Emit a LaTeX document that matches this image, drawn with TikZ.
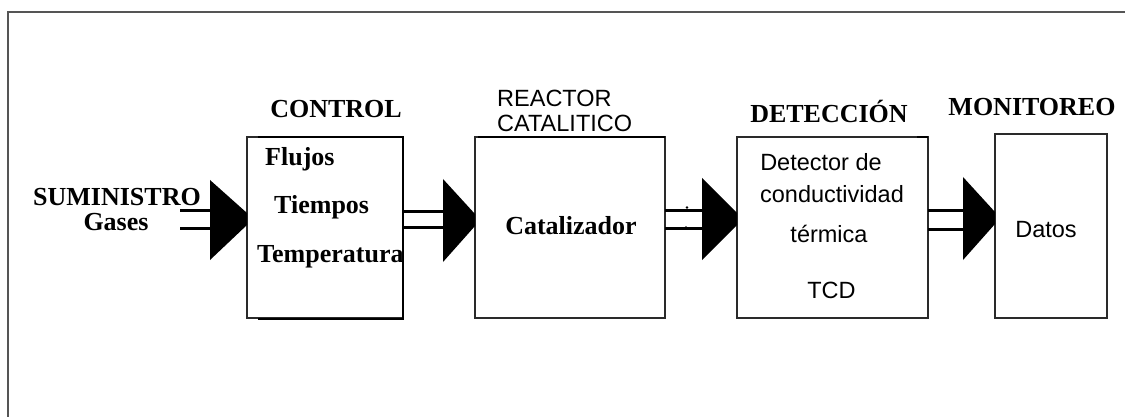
\documentclass[tikz,border=0pt]{standalone}
\usepackage{fontspec}
\setmainfont{Liberation Serif}
\newfontfamily\arialfont{Liberation Sans}
\definecolor{framegray}{HTML}{555555}
\definecolor{boxline}{HTML}{2A2A2A}
\begin{document}
\begin{tikzpicture}[x=1pt,y=-1pt,
  box/.style={draw=boxline,line width=1.8pt,rectangle,inner sep=0pt,outer sep=0pt},
  heavy/.style={draw=black,line width=2.8pt},
  pipe/.style={draw=black,line width=3pt},
  headfill/.style={fill=black},
  serif/.style={inner sep=0pt,anchor=base,font=\fontsize{26}{30}\selectfont\bfseries},
  sans/.style={inner sep=0pt,anchor=base,font=\arialfont\fontsize{23.5}{26}\selectfont},
]
\useasboundingbox (0,0) rectangle (1125,417);
\fill[white] (0,0) rectangle (1125,417);

% outer frame (open on the right and at the bottom)
\draw[framegray,line width=2pt] (1125,12.5) -- (7.5,12.5) -- (7.5,417);

% stage boxes
\node[box,minimum width=156pt,minimum height=181pt] (control) at (325,227.5) {};
\node[box,minimum width=190pt,minimum height=181pt] (reactor) at (570,227.5) {};
\node[box,minimum width=191pt,minimum height=181pt] (detect) at (832.5,227.5) {};
\node[box,minimum width=112pt,minimum height=184pt] (monitor) at (1051,226) {};

% heavier edges on some boxes
\draw[heavy] (258,137) -- (control.north east) -- (403,320);
\draw[heavy] (258,319) -- (403,319);
\draw[heavy] (478,137) -- (reactor.north east);
\draw[heavy] (917,137) -- (detect.north east);

% connector ends (start of each double pipe) and arrowhead bases
\coordinate (src) at (180,219);
\coordinate (b1) at (210,219);
\coordinate (b2) at (443,219);
\coordinate (b3) at (702,219);
\coordinate (b4) at (963,219.5);

% double pipes
\draw[pipe] ([yshift=9pt]src) -- ([yshift=9pt]b1);
\draw[pipe] ([yshift=-9pt]src) -- ([yshift=-9pt]b1);
\draw[pipe] ([yshift=8pt]control.east |- b2) -- ([yshift=8pt]b2);
\draw[pipe] ([yshift=-8pt]control.east |- b2) -- ([yshift=-8pt]b2);
\draw[pipe] ([yshift=9pt]reactor.east |- b3) -- ([yshift=9pt]b3);
\draw[pipe] ([yshift=-9pt]reactor.east |- b3) -- ([yshift=-9pt]b3);
\draw[pipe] ([yshift=9.5pt]detect.east |- b4) -- ([yshift=9.5pt]b4);
\draw[pipe] ([yshift=-9.5pt]detect.east |- b4) -- ([yshift=-9.5pt]b4);
\fill (687,207.5) circle (1.3pt) (686,227.5) circle (1.3pt);

% arrowheads touching the next box
\fill[headfill] (210,180) -- (control.west |- 0,213) -- (control.west |- 0,225) -- (210,260) -- cycle;
\fill[headfill] (443,179) -- (reactor.west |- 0,214) -- (reactor.west |- 0,226) -- (443,262) -- cycle;
\fill[headfill] (702,178) -- (detect.west |- 0,213) -- (detect.west |- 0,225) -- (702,260) -- cycle;
\fill[headfill] (963,177) -- (monitor.west |- 0,212) -- (monitor.west |- 0,224) -- (963,260) -- cycle;

% titles
\node[serif] (tsum) at (117,205) {SUMINISTRO};
\node[serif] (tgas) at (116,230) {Gases};
\node[serif] (tctl) at (336,118) {CONTROL};
\node[sans,anchor=base west] (trea) at (497,107) {REACTOR};
\node[sans,anchor=base west] (tcat) at (497,132) {CATALITICO};
\node[serif] (tdet) at (829,123) {DETECCIÓN};
\node[serif] (tmon) at (1032,116) {MONITOREO};

% box contents
\node[serif,anchor=base west] (flu) at (265,166) {Flujos};
\node[serif,anchor=base west] (tie) at (274,214) {Tiempos};
\node[serif,anchor=base west] (tem) at (257,262) {Temperatura};
\node[serif] (cata) at (571,234) {Catalizador};
\node[sans] (d1) at (821,171) {Detector de};
\node[sans] (d2) at (832,202) {conductividad};
\node[sans] (d3) at (829,242) {térmica};
\node[sans] (d4) at (831.5,298) {TCD};
\node[sans] (dat) at (1046,237) {Datos};
\end{tikzpicture}
\end{document}
